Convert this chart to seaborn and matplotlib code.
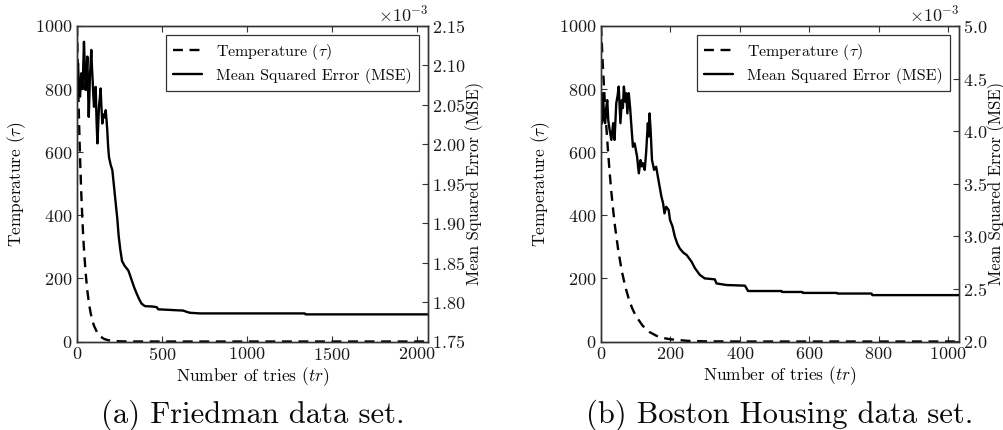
import matplotlib
matplotlib.use("Agg")
import numpy as np
import pandas as pd
import matplotlib.pyplot as plt
import seaborn as sns
from matplotlib.ticker import MultipleLocator, ScalarFormatter

# ---------------- data ----------------
# (a) Friedman data set
fried_temp_x = [0, 5, 10, 15, 20, 25, 30, 35, 40, 50, 60, 70, 80, 90, 100,
                120, 140, 160, 180, 200, 250, 300, 400, 2065]
fried_temp_y = [1000, 861, 741, 638, 549, 472, 407, 350, 301, 223, 165, 122,
                91, 67, 50, 27, 15, 8, 4.5, 2.5, 0.6, 0.1, 0, 0]

fried_mse_x = [0, 6, 12, 18, 25, 33, 41, 46, 51, 56, 61, 65, 69, 73, 76, 80,
               84, 88, 92, 96, 100, 105, 110, 115, 120, 125, 129, 134, 139,
               144, 149, 155, 162, 169, 174, 178, 183, 188, 198, 208, 218,
               228, 237, 245, 255, 265, 280, 302, 312, 322, 336, 351, 365,
               380, 400, 440, 469, 478, 550, 625, 645, 665, 724, 1340, 1345,
               2065]
fried_mse_y = [2.0728, 2.1028, 2.070, 2.0604, 2.090, 2.070, 2.130, 2.098,
               2.0688, 2.090, 2.1112, 2.070, 2.0348, 2.062, 2.0856, 2.102,
               2.1196, 2.098, 2.0816, 2.062, 2.0476, 2.058, 2.0728, 2.030,
               2.0012, 2.026, 2.0476, 2.058, 2.0708, 2.046, 2.0264, 2.038,
               2.034, 2.0432, 2.030, 2.018, 1.998, 1.984, 1.974, 1.9672,
               1.946, 1.9248, 1.906, 1.884, 1.866, 1.852, 1.846, 1.840,
               1.834, 1.8276, 1.8188, 1.8108, 1.804, 1.798, 1.7948, 1.7944,
               1.7936, 1.7908, 1.790, 1.7892, 1.7876, 1.7864, 1.7856, 1.7856,
               1.7844, 1.7844]  # x 10^-3

# (b) Boston Housing data set
boston_temp_x = [0, 5, 10, 15, 20, 25, 30, 35, 40, 50, 60, 70, 80, 90, 100,
                 120, 140, 160, 180, 200, 250, 300, 400, 1032]
boston_temp_y = [1000, 882, 779, 687, 607, 535, 472, 417, 368, 287, 223, 174,
                 135, 105, 82, 50, 30, 18, 11, 7, 2, 0.5, 0, 0]

boston_mse_x = [0, 2, 6, 9, 12, 15, 18, 21, 25, 30, 35, 39, 44, 48, 51, 56,
                60, 63, 66, 70, 73, 76, 80, 84, 87, 92, 97, 104, 109, 114,
                118, 121, 126, 130, 135, 138, 140, 143, 147, 150, 153, 159,
                164, 169, 174, 179, 183, 188, 195, 199, 206, 213, 220, 227,
                237, 247, 261, 271, 285, 299, 328, 333, 362, 415, 424, 520,
                522, 580, 582, 680, 682, 780, 782, 1032]
boston_mse_y = [4.22, 4.07, 4.361, 4.10, 4.076, 4.22, 4.295, 4.10, 4.01,
                3.917, 4.076, 3.917, 4.265, 4.34, 4.424, 4.076, 4.295, 4.22,
                4.424, 4.28, 4.361, 4.169, 4.361, 4.22, 4.076, 3.851, 3.884,
                3.758, 3.599, 3.725, 3.665, 3.695, 3.632, 3.791, 4.076, 3.95,
                4.169, 4.013, 3.725, 3.68, 3.632, 3.662, 3.566, 3.473, 3.38,
                3.314, 3.218, 3.281, 3.251, 3.155, 3.095, 2.996, 2.93, 2.885,
                2.846, 2.822, 2.759, 2.696, 2.633, 2.60, 2.591, 2.552, 2.537,
                2.531, 2.48, 2.48, 2.471, 2.471, 2.462, 2.462, 2.456, 2.456,
                2.441, 2.441]  # x 10^-3

panels = [
    dict(tx=fried_temp_x, ty=fried_temp_y, mx=fried_mse_x, my=fried_mse_y,
         xmax=2065, xstep=500, mlim=(1.75, 2.15), mstep=0.05,
         caption="(a) Friedman data set."),
    dict(tx=boston_temp_x, ty=boston_temp_y, mx=boston_mse_x, my=boston_mse_y,
         xmax=1032, xstep=200, mlim=(2.0, 5.0), mstep=0.5,
         caption="(b) Boston Housing data set."),
]

# ---------------- style ----------------
sns.set_theme(style="ticks")
plt.rcParams.update({
    "font.family": ["cmr10", "DejaVu Serif"],
    "mathtext.fontset": "cm",
    "axes.formatter.use_mathtext": True,
    "axes.unicode_minus": False,
    "axes.edgecolor": "#333333",
    "axes.linewidth": 1.0,
    "xtick.color": "#333333",
    "ytick.color": "#333333",
    "xtick.labelcolor": "#1a1a1a",
    "ytick.labelcolor": "#1a1a1a",
    "text.color": "#0a0a0a",
    "axes.labelcolor": "#0a0a0a",
})

fig = plt.figure(figsize=(10.04, 4.30), dpi=100)
rects = [(77 / 1004, 88.5 / 430, 351 / 1004, 315.5 / 430),
         (601 / 1004, 88.5 / 430, 358 / 1004, 315.5 / 430)]
right_label_x = [465, 987]  # pixel of the left edge of the right-hand axis label

for p, r, rlx in zip(panels, rects, right_label_x):
    ax = fig.add_axes(r)
    ax2 = ax.twinx()
    dft = pd.DataFrame({"x": p["tx"], "y": p["ty"]})
    dfm = pd.DataFrame({"x": p["mx"], "y": np.array(p["my"]) * 1e-3})
    sns.lineplot(data=dft, x="x", y="y", ax=ax, color="black", lw=1.7,
                 estimator=None, sort=False, legend=False,
                 linestyle=(0, (4.2, 2.8)))
    sns.lineplot(data=dfm, x="x", y="y", ax=ax2, color="black", lw=1.7,
                 estimator=None, sort=False, legend=False)

    ax.set_xlim(0, p["xmax"])
    ax.set_ylim(0, 1000)
    ax.xaxis.set_major_locator(MultipleLocator(p["xstep"]))
    ax.yaxis.set_major_locator(MultipleLocator(200))
    ax2.set_ylim(p["mlim"][0] * 1e-3, p["mlim"][1] * 1e-3)
    ax2.yaxis.set_major_locator(MultipleLocator(p["mstep"] * 1e-3))
    fmt = ScalarFormatter(useMathText=True)
    fmt.set_powerlimits((-2, 2))
    ax2.yaxis.set_major_formatter(fmt)

    ax.tick_params(axis="both", direction="in", length=4, width=0.8,
                   labelsize=13, top=True, right=False, pad=3)
    ax2.tick_params(axis="y", direction="in", length=4, width=0.8,
                    labelsize=13, pad=3)
    ax2.yaxis.get_offset_text().set_fontsize(13)

    ax.set_xlabel(r"Number of tries ($tr$)", fontsize=12.5, labelpad=2)
    ax.set_ylabel(r"Temperature ($\tau$)", fontsize=12.5, labelpad=5)
    ax2.set_ylabel("Mean Squared Error (MSE)", fontsize=12)
    ax2.yaxis.set_label_coords((rlx - r[0] * 1004) / (r[2] * 1004), 0.5)

    handles = [ax.get_lines()[0], ax2.get_lines()[0]]
    leg = ax2.legend(handles, [r"Temperature ($\tau$)", "Mean Squared Error (MSE)"],
                     loc="upper right", fontsize=11.5, frameon=True,
                     fancybox=False, framealpha=1, edgecolor="#333333",
                     handlelength=1.8, handletextpad=0.9, borderpad=0.45,
                     labelspacing=0.35, borderaxespad=0.55)
    leg.get_frame().set_linewidth(0.9)

    cx = r[0] + r[2] / 2
    fig.text(cx, 7 / 430, p["caption"], ha="center", va="baseline", fontsize=22)

fig.savefig("out.png", dpi=100)
